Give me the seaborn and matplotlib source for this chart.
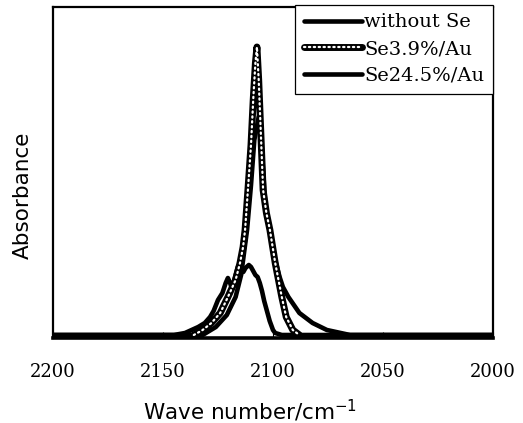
import matplotlib
matplotlib.use("Agg")
import matplotlib.pyplot as plt
import seaborn as sns
import pandas as pd

# spectra (absorbance, arbitrary units)
x_without = [2200, 2132, 2126, 2121, 2117, 2114.5, 2111.8, 2110, 2108.5, 2106.5, 2105.5,
             2104.5, 2103.5, 2101.5, 2099, 2097, 2095.5, 2093, 2088, 2082, 2075.5, 2065, 2000]
y_without = [0, 0, 0.08, 0.20, 0.38, 0.60, 1.05, 1.50, 1.95, 2.18, 2.00,
             1.65, 1.30, 1.05, 0.75, 0.58, 0.48, 0.38, 0.22, 0.12, 0.05, 0, 0]

# dotted trace is only visible above the baseline
x_se39 = [2136, 2132, 2128, 2124, 2120.5, 2117, 2115, 2113.6, 2112.7, 2111.4, 2110,
          2109, 2108, 2107.3, 2106.5, 2105.5, 2104.5, 2103, 2101.4, 2099, 2096, 2094, 2091,
          2088]
y_se39 = [0, 0.05, 0.12, 0.22, 0.38, 0.55, 0.72, 0.88, 1.05, 1.45, 1.90,
          2.35, 2.72, 2.88, 2.55, 2.00, 1.45, 1.22, 1.05, 0.72, 0.38, 0.18, 0.05,
          0]

x_se245 = [2200, 2145, 2140, 2137, 2134, 2131, 2128.6, 2127, 2125, 2123, 2121.5, 2120.5,
           2119.5, 2118.6, 2117.5, 2116, 2115, 2113.5, 2112.5, 2111, 2110, 2109, 2108,
           2107, 2106, 2105, 2104, 2103, 2101.5, 2100, 2099, 2096, 2000]
y_se245 = [0, 0, 0.02, 0.05, 0.08, 0.12, 0.18, 0.24, 0.35, 0.42, 0.52, 0.57,
           0.52, 0.46, 0.56, 0.68, 0.66, 0.63, 0.67, 0.70, 0.68, 0.64, 0.60,
           0.58, 0.52, 0.44, 0.34, 0.26, 0.14, 0.05, 0.02, 0, 0]

labels = ["without Se", "Se3.9%/Au", "Se24.5%/Au"]
x_ticks = [2200, 2150, 2100, 2050, 2000]

sns.set_style("ticks")
plt.rcParams["font.family"] = ["DejaVu Sans"]
plt.rcParams["text.color"] = "black"
plt.rcParams["axes.labelcolor"] = "black"
plt.rcParams["xtick.color"] = "black"

fig = plt.figure(figsize=(5.23, 4.23), dpi=100)
ax = fig.add_axes([53 / 523, 1 - 338 / 423, 440 / 523, 331 / 423])

df1 = pd.DataFrame({"x": x_without, "y": y_without})
df2 = pd.DataFrame({"x": x_se39, "y": y_se39})
df3 = pd.DataFrame({"x": x_se245, "y": y_se245})

dots = (0, (0.6, 1.6))
sns.lineplot(data=df3, x="x", y="y", ax=ax, color="black", lw=3.3, sort=False)
sns.lineplot(data=df1, x="x", y="y", ax=ax, color="black", lw=3.3, sort=False)
sns.lineplot(data=df2, x="x", y="y", ax=ax, color="black", lw=5.0, sort=False)
sns.lineplot(data=df2, x="x", y="y", ax=ax, color="white", lw=1.6, sort=False,
             linestyle=dots, dash_capstyle="round")

ax.set_xlim(2200, 2000)
ax.set_ylim(-0.03, 3.28)
ax.set_xticks(x_ticks)
ax.set_xticklabels([str(t) for t in x_ticks], family="DejaVu Serif", fontsize=13)
ax.set_yticks([])
ax.tick_params(axis="x", direction="in", length=4, width=0.8, pad=18)
for s in ax.spines.values():
    s.set_linewidth(1.6)
    s.set_color("black")
ax.spines["bottom"].set_linewidth(2.6)

ax.set_xlabel("Wave number/cm$^{-1}$", fontsize=15.5)
ax.xaxis.set_label_coords((250 - 53) / 440, -0.18)
ax.set_ylabel("Absorbance", fontsize=15.5)
ax.yaxis.set_label_coords(-0.045, 0.43)

h1 = plt.Line2D([], [], color="black", lw=3.3)
h2a = plt.Line2D([], [], color="black", lw=5.0)
h2b = plt.Line2D([], [], color="white", lw=1.6, linestyle=dots, dash_capstyle="round")
h3 = plt.Line2D([], [], color="black", lw=3.3)
leg = ax.legend([h1, (h2a, h2b), h3], labels, loc="upper right",
                bbox_to_anchor=(1.0, 1.007), borderaxespad=0, frameon=True, fancybox=False,
                edgecolor="black", framealpha=1, handlelength=3.0, handletextpad=0.1,
                labelspacing=0.45, borderpad=0.45,
                prop={"family": "DejaVu Serif", "size": 14})
leg.get_frame().set_linewidth(0.9)

fig.savefig("out.png", dpi=100)
